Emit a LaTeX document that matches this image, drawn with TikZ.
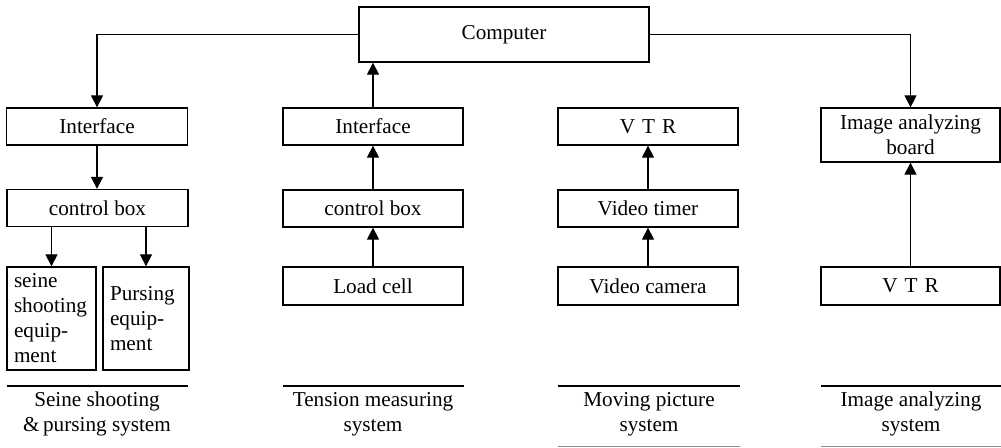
\documentclass[tikz,border=0pt]{standalone}
\usepackage{fontspec}
\setmainfont{Liberation Serif}
\usetikzlibrary{arrows.meta}
\begin{document}
\begin{tikzpicture}[x=1pt,y=-1pt,
  txt/.style={font=\fontsize{21.2}{25}\selectfont},
  box/.style={draw, line width=1.3pt, inner sep=0pt, minimum width=180pt,
    minimum height=37pt, txt},
  arr/.style={line width=1.1pt, -{Triangle[width=12pt,length=12pt]}},
  rule/.style={line width=1.1pt},
  caption/.style={txt, align=center, inner sep=0pt}]
\useasboundingbox (0,0) rectangle (1001,447);

% top unit
\node[box, minimum width=290pt, minimum height=55pt] (comp) at (504,34.5) {Computer};

% seine shooting & pursing column
\node[box, minimum width=181pt] (if1) at (97,126.5) {Interface};
\node[box, minimum width=181pt] (cb1) at (97.5,208) {control box};
\node[box, minimum width=89pt, minimum height=103pt, align=left, text width=75pt]
  (seine) at (51.5,318.5) {seine\\shooting\\equip-\\ment};
\node[box, minimum width=86pt, minimum height=103pt, align=left, text width=72pt]
  (purs) at (146,318.5) {Pursing\\equip-\\ment};

% tension measuring column
\node[box] (if2) at (373,126.5) {Interface};
\node[box] (cb2) at (373,208.5) {control box};
\node[box, minimum height=38pt] (load) at (373,286) {Load cell};

% moving picture column
\node[box] (vtr1) at (648,126.5) {V\hspace{0.33em}T\hspace{0.33em}R};
\node[box] (timer) at (648,208.5) {Video timer};
\node[box, minimum height=38pt] (cam) at (648,286) {Video camera};

% image analyzing column
\node[box, minimum width=179pt, minimum height=54pt, align=center]
  (board) at (910.5,135) {Image analyzing\\board};
\node[box, minimum width=179pt, minimum height=38pt] (vtr2) at (910.5,286)
  {V\hspace{0.33em}T\hspace{0.33em}R};

% connectors
\draw[arr] (comp.west) -| (if1.north);
\draw[arr] (comp.east) -| (board.north);
\draw[arr] (if1.south) -- (if1.south |- cb1.north);
\draw[arr] (seine.north |- cb1.south) -- (seine.north);
\draw[arr] (purs.north |- cb1.south) -- (purs.north);
\draw[arr] (if2.north) -- (if2.north |- comp.south);
\draw[arr] (cb2.north) -- (if2.south);
\draw[arr] (load.north) -- (cb2.south);
\draw[arr] (timer.north) -- (vtr1.south);
\draw[arr] (cam.north) -- (timer.south);
\draw[arr] (vtr2.north) -- (board.south);

% system captions
\coordinate (r1a) at (7,386);   \coordinate (r1b) at (188,386);
\coordinate (r2a) at (283,386); \coordinate (r2b) at (464,386);
\coordinate (r3a) at (558,386); \coordinate (r3b) at (740,386);
\coordinate (r4a) at (821,386); \coordinate (r4b) at (1001,386);
\draw[rule] (r1a) -- (r1b);
\draw[rule] (r2a) -- (r2b);
\draw[rule] (r3a) -- (r3b);
\draw[rule] (r4a) -- (r4b);

\node[caption] (cap1) at (97,414) {Seine shooting\\\&\,pursing system};
\node[caption] (cap2) at (373,414) {Tension measuring\\system};
\node[caption] (cap3) at (649,414) {Moving picture\\system};
\node[caption] (cap4) at (911,414) {Image analyzing\\system};

% lower rules
\coordinate (b3a) at (558,446); \coordinate (b3b) at (740,446);
\coordinate (b4a) at (821,446); \coordinate (b4b) at (1001,446);
\draw[line width=0.8pt, black!45] (b3a) -- (b3b);
\draw[line width=0.8pt, black!45] (b4a) -- (b4b);
\end{tikzpicture}
\end{document}
